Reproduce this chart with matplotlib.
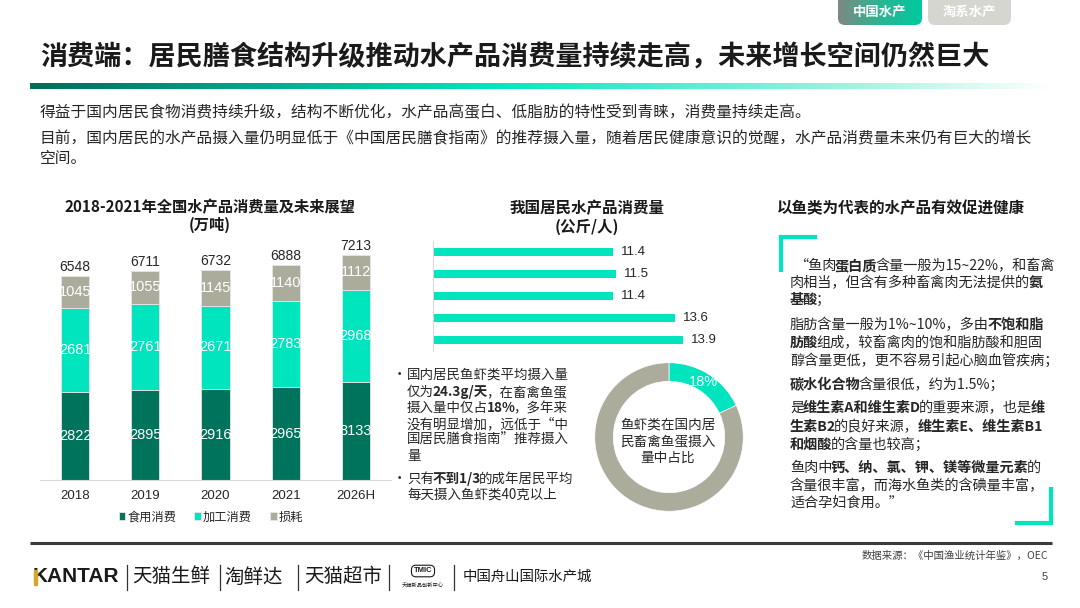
import numpy as np
import matplotlib
matplotlib.use("Agg")
import matplotlib.pyplot as plt
from matplotlib.colors import LinearSegmentedColormap
from matplotlib.patches import FancyBboxPatch, Rectangle

plt.rcParams['font.family'] = ['Noto Sans CJK SC', 'DejaVu Sans']

W, H = 1080, 608

# ---------------------------------------------------------------------------
# Data
years = ['2018', '2019', '2020', '2021', '2026H']
food = [2822, 2895, 2916, 2965, 3133]
processing = [2681, 2761, 2671, 2783, 2968]
loss = [1045, 1055, 1145, 1140, 1112]
stack_names = ['食用消费', '加工消费', '损耗']

per_capita = [11.4, 11.5, 11.4, 13.6, 13.9]

fish_share = 18
other_share = 100 - fish_share

DARK = '#00735c'
TEAL = '#00e5be'
GREY = '#acac9d'
TXT = '#262626'
NUM = 'Liberation Sans'


def px_box(x0, y0, x1, y1):
    return [x0 / W, 1 - y1 / H, (x1 - x0) / W, (y1 - y0) / H]


fig = plt.figure(figsize=(W / 100, H / 100), dpi=100)
bg = fig.add_axes([0, 0, 1, 1])
bg.axis('off')


def rich(x, y, parts, size, color=TXT, style='normal'):
    # draw a line made of normal / bold pieces, one after the other
    t = None
    prev_bold = False
    for s, bold in parts:
        w = 'bold' if bold else 'normal'
        if t is None:
            t = bg.text(x, y, s, fontsize=size, color=color, fontweight=w,
                        style=style, va='center', ha='left')
        else:
            dx = -1.5 if prev_bold else -1.0
            t = bg.annotate(s, xy=(1, 0.5), xycoords=t, xytext=(dx, 0),
                            textcoords='offset points', fontsize=size,
                            color=color, fontweight=w, style=style,
                            va='center', ha='left')
        prev_bold = bold
    return t


# ---------------------------------------------------------------------------
# header: tabs, title, gradient rule, intro text
grad = np.linspace(0, 1, 256)[None, :]
tab_cmap = LinearSegmentedColormap.from_list('tab', ['#7e8882', '#2bb592', '#00c99f'])
tab = FancyBboxPatch((838, -12), 84, 37, boxstyle='round,pad=0,rounding_size=7',
                     transform=bg.transData, facecolor='none', edgecolor='none')
bg.add_patch(tab)
im = bg.imshow(grad, cmap=tab_cmap, extent=(838, 922, 25, -12), aspect='auto')
im.set_clip_path(tab)
bg.add_patch(FancyBboxPatch((928, -12), 83, 37, boxstyle='round,pad=0,rounding_size=7',
                            facecolor='#d6d6d0', edgecolor='none'))
bg.text(880, 12, '中国水产', fontsize=9.6, color='white', fontweight='bold', ha='center', va='center')
bg.text(969, 12, '淘系水产', fontsize=9.6, color='white', fontweight='bold', ha='center', va='center')

bg.text(40, 57, '消费端：居民膳食结构升级推动水产品消费量持续走高，未来增长空间仍然巨大',
        fontsize=19.5, fontweight='bold', color='#1a1a1a', va='center')

rule_cmap = LinearSegmentedColormap.from_list(
    'rule', [(0, '#006e58'), (0.45, '#00e6bf'), (0.8, '#9ef3e0'), (1, '#ffffff')])
bg.imshow(grad, cmap=rule_cmap, extent=(30, 1052, 89, 83), aspect='auto')

body = 11.3
bg.text(40, 113, '得益于国内居民食物消费持续升级，结构不断优化，水产品高蛋白、低脂肪的特性受到青睐，消费量持续走高。',
        fontsize=body, color=TXT, va='center')
bg.text(40, 139, '目前，国内居民的水产品摄入量仍明显低于《中国居民膳食指南》的推荐摄入量，随着居民健康意识的觉醒，水产品消费量未来仍有巨大的增长',
        fontsize=body, color=TXT, va='center')
bg.text(40, 159, '空间。', fontsize=body, color=TXT, va='center')

# ---------------------------------------------------------------------------
# left: stacked bars
bg.text(210, 207, '2018-2021年全国水产品消费量及未来展望', fontsize=11, fontweight='bold',
        color='#1a1a1a', ha='center', va='center')
bg.text(210, 225, '(万吨)', fontsize=11, fontweight='bold', color='#1a1a1a', ha='center', va='center')

ax1 = fig.add_axes(px_box(40, 250, 391, 480))
ax1.patch.set_alpha(0)
x = np.arange(len(years))
bottom2 = np.add(food, processing)
totals = bottom2 + np.array(loss)
b1 = ax1.bar(x, food, 0.4, color=DARK, edgecolor='#e6e6e6', linewidth=0.6, label=stack_names[0])
b2 = ax1.bar(x, processing, 0.4, bottom=food, color=TEAL, edgecolor='#e6e6e6', linewidth=0.6,
             label=stack_names[1])
b3 = ax1.bar(x, loss, 0.4, bottom=bottom2, color=GREY, edgecolor='#e6e6e6', linewidth=0.6,
             label=stack_names[2])
for bars in (b1, b2, b3):
    ax1.bar_label(bars, label_type='center', color='white', fontsize=10.5, family=NUM)
for xi, t in zip(x, totals):
    ax1.annotate(f'{t}', (xi, t), xytext=(0, 1.5), textcoords='offset points',
                 ha='center', va='bottom', fontsize=10, family=NUM, color=TXT)
ax1.set_xlim(-0.5, 4.5)
ax1.set_ylim(0, 230 / 0.0312)
ax1.set_xticks(x, years, fontsize=9.5, family=NUM, color=TXT)
ax1.set_yticks([])
ax1.tick_params(axis='x', length=0, pad=7)
for s in ('top', 'right', 'left'):
    ax1.spines[s].set_visible(False)
ax1.spines['bottom'].set_color('#d9d9d9')
ax1.legend(loc='center', bbox_to_anchor=(211 / W, 1 - 517 / H), bbox_transform=fig.transFigure,
           ncol=3, frameon=False, fontsize=8.8, handlelength=0.55, handleheight=0.55,
           handletextpad=0.15, columnspacing=1.5, borderaxespad=0, labelcolor=TXT)

# ---------------------------------------------------------------------------
# middle: per-capita bars, bullets, donut
bg.text(587, 208, '我国居民水产品消费量', fontsize=11.2, fontweight='bold', color='#1a1a1a',
        ha='center', va='center')
bg.text(587, 227, '(公斤/人)', fontsize=11.2, fontweight='bold', color='#1a1a1a',
        ha='center', va='center')

ax2 = fig.add_axes(px_box(433, 241, 700, 351))
ax2.patch.set_alpha(0)
yy = np.arange(len(per_capita))
hb = ax2.barh(yy, per_capita, height=0.4, color=TEAL)
ax2.bar_label(hb, fmt='%.1f', padding=5.5, fontsize=9.5, family=NUM, color=TXT)
ax2.set_xlim(4.96, 4.96 + 267 / 28)
ax2.set_ylim(4.5, -0.5)
ax2.set_xticks([])
ax2.set_yticks([])
for s in ('top', 'right', 'bottom'):
    ax2.spines[s].set_visible(False)
ax2.spines['left'].set_color('#d9d9d9')

bs = 9.7
bg.text(393, 375, '•', fontsize=bs, color=TXT, va='center')
rich(407, 375, [('国内居民鱼虾类平均摄入量', False)], bs)
rich(407, 392, [('仅为', False), ('24.3g/天', True), ('，在畜禽鱼蛋', False)], bs)
rich(407, 408, [('摄入量中仅占', False), ('18%', True), ('，多年来', False)], bs)
rich(407, 424, [('没有明显增加，远低于“中', False)], bs)
rich(407, 440, [('国居民膳食指南”推荐摄入', False)], bs)
rich(407, 456, [('量', False)], bs)
bg.text(393, 479, '•', fontsize=bs, color=TXT, va='center')
rich(407, 479, [('只有', False), ('不到1/3', True), ('的成年居民平均', False)], bs)
rich(407, 495, [('每天摄入鱼虾类40克以上', False)], bs)

ax3 = fig.add_axes(px_box(594, 362, 744, 512))
ax3.pie([fish_share, other_share], colors=[TEAL, GREY], startangle=90, counterclock=False,
        radius=1, wedgeprops=dict(width=0.25, edgecolor='white', linewidth=0.5))
ax3.set_xlim(-1.01, 1.01)
ax3.set_ylim(-1.01, 1.01)
theta = np.deg2rad(90 - 360 * fish_share / 100 / 2)
ax3.text(0.86 * np.cos(theta), 0.86 * np.sin(theta) + 0.02, f'{fish_share}%', color='white',
         fontsize=10.5, family=NUM, ha='center', va='center')
for yv, s in zip((425, 442, 458), ('鱼虾类在国内居', '民畜禽鱼蛋摄入', '量中占比')):
    bg.text(668, yv, s, fontsize=9.8, color=TXT, ha='center', va='center')

# ---------------------------------------------------------------------------
# right: health notes
bg.text(777, 208, '以鱼类为代表的水产品有效促进健康', fontsize=11.2, fontweight='bold',
        color='#1a1a1a', va='center')
bg.plot([817, 781, 781], [237, 237, 272], color=TEAL, lw=3, solid_joinstyle='miter',
        solid_capstyle='butt')
bg.plot([1051, 1051, 1015], [487, 523, 523], color=TEAL, lw=3, solid_joinstyle='miter',
        solid_capstyle='butt')

rs = 10.2
it = 'italic'
rich(794, 266, [('“鱼肉', False), ('蛋白质', True), ('含量一般为15~22%，和畜禽', False)], rs, style=it)
rich(790, 283, [('肉相当，但含有多种畜禽肉无法提供的', False), ('氨', True)], rs, style=it)
rich(790, 300, [('基酸', True), ('；', False)], rs, style=it)
rich(790, 325, [('脂肪含量一般为1%~10%，多由', False), ('不饱和脂', True)], rs, style=it)
rich(790, 343, [('肪酸', True), ('组成，较畜禽肉的饱和脂肪酸和胆固', False)], rs, style=it)
rich(790, 361, [('醇含量更低，更不容易引起心脑血管疾病；', False)], rs, style=it)
rich(790, 385, [('碳水化合物', True), ('含量很低，约为1.5%；', False)], rs, style=it)
rich(790, 408, [('是', False), ('维生素A和维生素D', True), ('的重要来源，也是', False), ('维', True)],
     rs, style=it)
rich(790, 427, [('生素B2', True), ('的良好来源，', False), ('维生素E、维生素B1', True)], rs, style=it)
rich(790, 445, [('和烟酸', True), ('的含量也较高；', False)], rs, style=it)
rich(790, 468, [('鱼肉中', False), ('钙、纳、氯、钾、镁等微量元素', True), ('的', False)], rs, style=it)
rich(790, 486, [('含量很丰富，而海水鱼类的含碘量丰富，', False)], rs, style=it)
rich(790, 503, [('适合孕妇食用。”', False)], rs, style=it)

# ---------------------------------------------------------------------------
# footer
bg.plot([30, 1052], [543, 543], color='#3a3a3a', lw=2.2, solid_capstyle='butt')
bg.text(1048, 556, '数据来源：《中国渔业统计年鉴》，OEC', fontsize=7.5, color='#404040',
        ha='right', va='center')
bg.text(1048, 577, '5', fontsize=8, color='#404040', ha='right', va='center', family=NUM)

bg.text(33, 577, 'KANTAR', fontsize=15, fontweight='bold', family=NUM, color='#1a1a1a', va='center')
bg.add_patch(Rectangle((34, 570), 2.6, 14.5, color='#d4a72c', zorder=5))
for xs in (127, 220, 298, 389, 454):
    bg.plot([xs, xs], [565, 590], color='#333333', lw=0.9)
bg.text(132, 577, '天猫生鲜', fontsize=14, color='#1a1a1a', va='center')
bg.text(224, 577, '淘鲜达', fontsize=14, color='#1a1a1a', va='center')
bg.text(304, 577, '天猫超市', fontsize=14, color='#1a1a1a', va='center')
bg.text(423, 571, 'TMIC', fontsize=5.5, fontweight='bold', family=NUM, color='#1a1a1a',
        ha='center', va='center',
        bbox=dict(boxstyle='round,pad=0.3,rounding_size=0.6', fc='white', ec='#1a1a1a', lw=0.8))
bg.text(423, 586, '天猫新品创新中心', fontsize=3.8, color='#1a1a1a', ha='center', va='center')
bg.text(463, 577, '中国舟山国际水产城', fontsize=10.4, color='#1a1a1a', va='center')

bg.set_xlim(0, W)
bg.set_ylim(H, 0)

fig.savefig('out.png', dpi=100)
